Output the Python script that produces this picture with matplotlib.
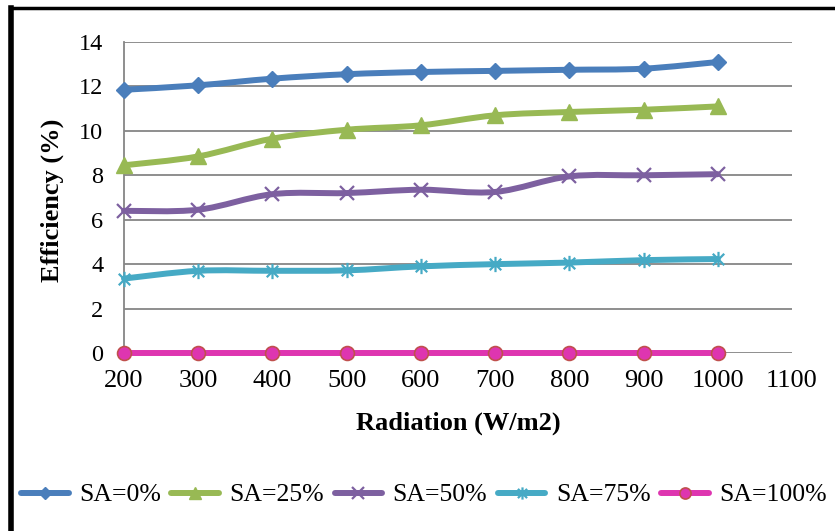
import matplotlib
matplotlib.use("Agg")
import matplotlib.pyplot as plt
import numpy as np
from matplotlib.path import Path
from matplotlib.patches import PathPatch
from matplotlib.lines import Line2D

plt.rcParams['font.family'] = ['Liberation Serif', 'DejaVu Serif']

# data
radiation = [200, 300, 400, 500, 600, 700, 800, 900, 1000]
sa_0 = [11.85, 12.05, 12.35, 12.55, 12.65, 12.7, 12.75, 12.8, 13.1]
sa_25 = [8.45, 8.85, 9.65, 10.05, 10.25, 10.7, 10.85, 10.95, 11.1]
sa_50 = [6.4, 6.45, 7.15, 7.2, 7.35, 7.25, 7.95, 8.0, 8.05]
sa_75 = [3.35, 3.7, 3.7, 3.72, 3.9, 4.0, 4.07, 4.18, 4.23]
sa_100 = [0, 0, 0, 0, 0, 0, 0, 0, 0]
labels = ['SA=0%', 'SA=25%', 'SA=50%', 'SA=75%', 'SA=100%']
xticks = [200, 300, 400, 500, 600, 700, 800, 900, 1000, 1100]
yticks = [0, 2, 4, 6, 8, 10, 12, 14]

colors = ['#4A7EBB', '#98B954', '#7D60A0', '#46AAC5', '#DE35B0']

# asterisk marker like excel's star (x plus vertical bar)
star = Path([(0, -1), (0, 1), (-0.75, -0.75), (0.75, 0.75), (-0.75, 0.75), (0.75, -0.75)],
            [Path.MOVETO, Path.LINETO, Path.MOVETO, Path.LINETO, Path.MOVETO, Path.LINETO])

styles = [
    dict(marker='D', ms=8, mec='#4A7EBB', mfc='#4A7EBB', mew=1),
    dict(marker='^', ms=11, mec='#98B954', mfc='#98B954', mew=1),
    dict(marker='x', ms=10, mec='#7D60A0', mew=1.6),
    dict(marker=star, ms=11, mec='#46AAC5', mew=1.6),
    dict(marker='o', ms=10, mec='#C0504D', mfc='#DE35B0', mew=1.2),
]


def smooth_path(x, y):
    # excel style smoothed line: catmull-rom segments as cubic beziers
    pts = np.column_stack([x, y]).astype(float)
    n = len(pts)
    verts = [pts[0]]
    codes = [Path.MOVETO]
    for i in range(n - 1):
        p0 = pts[i - 1] if i > 0 else pts[i]
        p1 = pts[i]
        p2 = pts[i + 1]
        p3 = pts[i + 2] if i + 2 < n else pts[i + 1]
        c1 = p1 + (p2 - p0) / 6
        c2 = p2 - (p3 - p1) / 6
        verts += [c1, c2, p2]
        codes += [Path.CURVE4] * 3
    return Path(verts, codes)


fig = plt.figure(figsize=(8.35, 5.31), dpi=100)
ax = fig.add_axes([124 / 835, 1 - 353 / 531, 668 / 835, 311 / 531])

series = [sa_0, sa_25, sa_50, sa_75, sa_100]
for vals, c, st in zip(series, colors, styles):
    ax.add_patch(PathPatch(smooth_path(radiation, vals), fill=False, ec=c, lw=4.3,
                           capstyle='round', joinstyle='round', zorder=3, clip_on=False))
    ax.plot(radiation, vals, ls='none', zorder=4, clip_on=False, **st)

ax.set_xlim(200, 1100)
ax.set_ylim(0, 14)
ax.set_xticks(xticks)
ax.set_yticks(yticks)
ax.grid(axis='y', color='#868686', lw=1.3)
ax.set_axisbelow(True)
for s in ['top', 'right', 'bottom']:
    ax.spines[s].set_visible(False)
ax.spines['left'].set_color('#868686')
ax.spines['left'].set_linewidth(1.3)
ax.tick_params(axis='both', length=0)
ax.tick_params(axis='y', labelsize=17.5, pad=15)
ax.tick_params(axis='x', labelsize=19, pad=12)

fig.text(458 / 835, 1 - 423 / 531, 'Radiation (W/m2)', ha='center', va='center',
         fontsize=19, fontweight='bold')
fig.text(52 / 835, 1 - 200 / 531, 'Efficiency (%)', ha='center', va='center',
         rotation=90, fontsize=19, fontweight='bold')

handles = [Line2D([], [], color=c, lw=4.3, solid_capstyle='round', **dict(st, ms=st['ms'] * 0.8))
           for c, st in zip(colors, styles)]
fig.legend(handles, labels, loc='center left', bbox_to_anchor=(21 / 835, 1 - 495 / 531),
           ncol=5, frameon=False, fontsize=18.5, handlelength=1.85, handletextpad=0.4,
           columnspacing=0.42, borderpad=0, borderaxespad=0)

# black frame on left and top edges
fig.add_artist(Line2D([10.5 / 835, 10.5 / 835], [0, 1 - 7.5 / 531], color='black', lw=4,
                      transform=fig.transFigure, solid_capstyle='projecting'))
fig.add_artist(Line2D([10.5 / 835, 1], [1 - 7.5 / 531, 1 - 7.5 / 531], color='black', lw=2.5,
                      transform=fig.transFigure, solid_capstyle='projecting'))

fig.savefig('out.png', dpi=100)
